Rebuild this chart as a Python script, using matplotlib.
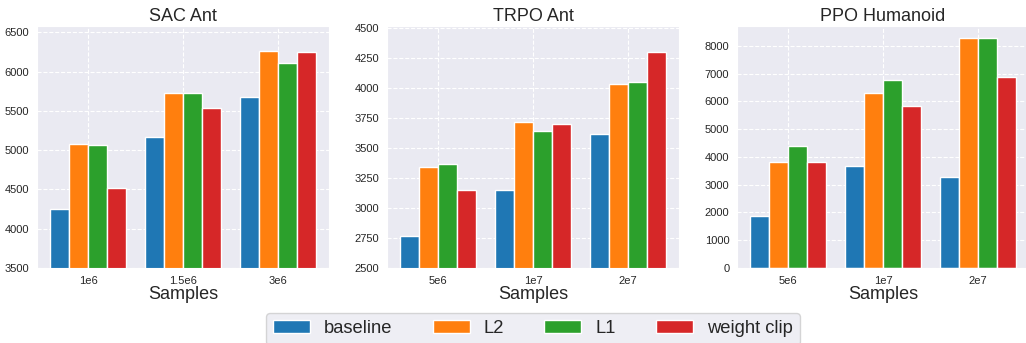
import matplotlib
matplotlib.use('Agg')
import matplotlib.pyplot as plt
import numpy as np
import seaborn as sns

sns.set_style('darkgrid', {'grid.linestyle': '--'})
plt.rcParams['font.family'] = ['Liberation Sans', 'DejaVu Sans']

methods = ['baseline', 'L2', 'L1', 'weight clip']
colors = ['#1f77b4', '#ff7f0e', '#2ca02c', '#d62728']

titles = ['SAC Ant', 'TRPO Ant', 'PPO Humanoid']
xticks = [['1e6', '1.5e6', '3e6'], ['5e6', '1e7', '2e7'], ['5e6', '1e7', '2e7']]

# rows: baseline, L2, L1, weight clip; columns: sample sizes
sac_ant = [[4248, 5170, 5672],
           [5077, 5727, 6267],
           [5068, 5731, 6109],
           [4516, 5540, 6254]]
trpo_ant = [[2769, 3147, 3614],
            [3342, 3714, 4033],
            [3369, 3639, 4050],
            [3147, 3703, 4300]]
ppo_humanoid = [[1886, 3676, 3267],
                [3832, 6306, 8288],
                [4396, 6775, 8288],
                [3808, 5850, 6871]]
data = [sac_ant, trpo_ant, ppo_humanoid]
ylims = [(3500, 6580), (2500, 4515), (0, 8710)]
yticks = [np.arange(3500, 6501, 500), np.arange(2500, 4501, 250), np.arange(0, 8001, 1000)]

fig = plt.figure(figsize=(10.26, 3.43), dpi=100)
lefts = [0.0361, 0.3772, 0.7183]
width = 0.2846
w = 0.2
for i in range(3):
    ax = fig.add_axes([lefts[i], 0.2187, width, 0.705])
    x = np.arange(3)
    for j, m in enumerate(methods):
        ax.bar(x + (j - 1.5) * w, data[i][j], w, color=colors[j],
               edgecolor='white', linewidth=1, label=m)
    ax.set_xticks(x)
    ax.set_xticklabels(xticks[i], fontsize=8)
    ax.set_yticks(yticks[i])
    ax.tick_params(axis='y', labelsize=8, pad=2)
    ax.tick_params(axis='x', pad=2)
    ax.set_xlim(-0.54, 2.54)
    ax.set_ylim(*ylims[i])
    ax.set_title(titles[i], fontsize=13, pad=4)
    ax.set_xlabel('Samples', fontsize=13, labelpad=0)
    ax.set_axisbelow(True)
    if i == 0:
        handles, labels = ax.get_legend_handles_labels()

fig.legend(handles, labels, loc='upper center', bbox_to_anchor=(0.5195, 0.0875),
           ncol=4, fontsize=13.2, handlelength=2.0, handletextpad=0.77,
           columnspacing=2.2, frameon=True, borderpad=0.4, borderaxespad=0)

fig.savefig('out.png', dpi=100)
